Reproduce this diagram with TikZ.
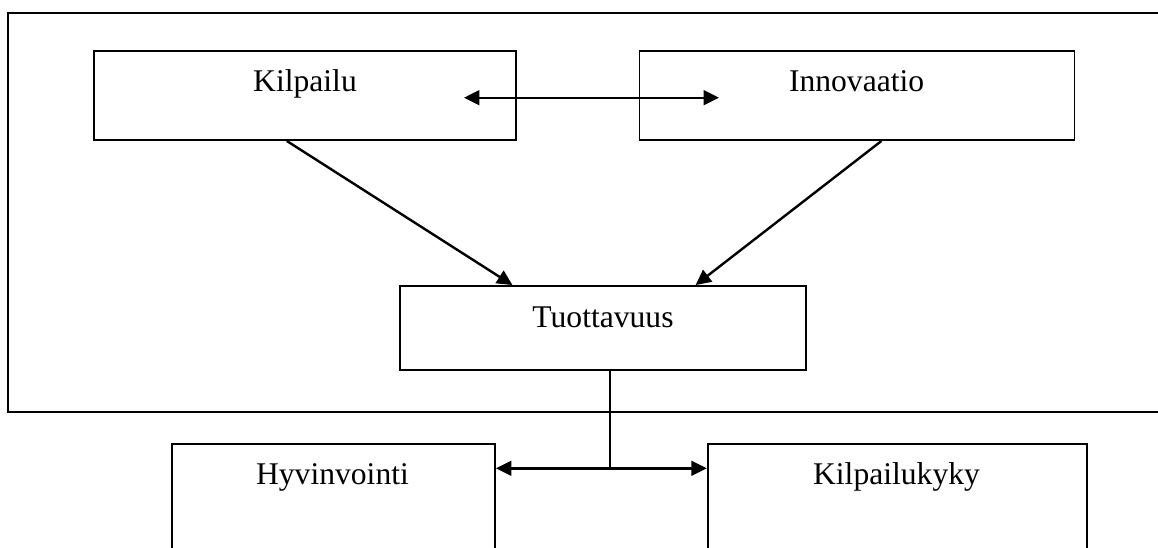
\documentclass[tikz,border=0pt]{standalone}
\usepackage{fontspec}
\setmainfont{Liberation Serif}
\usetikzlibrary{arrows.meta,calc}
\tikzset{
  box/.style={draw=black, line width=1.4pt, rectangle, inner sep=0pt, fill=none},
  lbl/.style={anchor=base, inner sep=0pt, font=\fontsize{23.7}{28}\selectfont},
  arr/.style={line width=1.8pt, -{Triangle[length=11.5pt,width=11pt]}},
  darr/.style={line width=1.8pt, {Triangle[length=11.5pt,width=11pt]}-{Triangle[length=11.5pt,width=11pt]}},
}
\begin{document}
\begin{tikzpicture}[x=0.75pt,y=-0.75pt]
\useasboundingbox (0,0) rectangle (1158,547);
\fill[white] (0,0) rectangle (1158,547);
\clip (0,0) rectangle (1158,547);
% outer frame
\node[box, minimum width={1162*0.75pt}, minimum height={398.7*0.75pt}] (frame) at (589,212.35) {};
% boxes
\node[box, minimum width={422*0.75pt}, minimum height={89*0.75pt}] (kil) at (305,95.5) {};
\node[box, minimum width={435*0.75pt}, minimum height={89*0.75pt}] (inn) at (857,95.5) {};
\node[box, minimum width={406*0.75pt}, minimum height={84*0.75pt}] (tuo) at (603,328) {};
\node[box, minimum width={323*0.75pt}, minimum height={140*0.75pt}] (hyv) at (333.5,514) {};
\node[box, minimum width={379.5*0.75pt}, minimum height={140*0.75pt}] (kyk) at (897.5,514) {};
% labels
\node[lbl] (kilt) at (305,91) {Kilpailu};
\node[lbl] (innt) at (856.6,91.5) {Innovaatio};
\node[lbl] (tuot) at (603,327) {Tuottavuus};
\node[lbl] (hyvt) at (332.5,484) {Hyvinvointi};
\node[lbl] (kykt) at (896.5,484.5) {Kilpailukyky};
% connector points
\coordinate (da) at (464,97.7);
\coordinate (db) at (719,97.7);
\coordinate (k1) at ($(kil.south west)!0.457!(kil.south east)$);
\coordinate (t1) at ($(tuo.north west)!0.278!(tuo.north east)$);
\coordinate (i1) at ($(inn.south west)!0.556!(inn.south east)$);
\coordinate (t2) at ($(tuo.north west)!0.727!(tuo.north east)$);
\coordinate (tb) at ($(tuo.south west)!0.517!(tuo.south east)$);
\coordinate (jn) at (tb |- 0,468.3);
\coordinate (ha) at (hyv.east |- jn);
\coordinate (ka) at (kyk.west |- jn);
% connectors
\draw[darr] (da) -- (db);
\draw[arr] (k1) -- (t1);
\draw[arr] (i1) -- (t2);
\draw[line width=1pt] (tb) -- (jn);
\draw[darr] (ha) -- (ka);
\end{tikzpicture}
\end{document}
